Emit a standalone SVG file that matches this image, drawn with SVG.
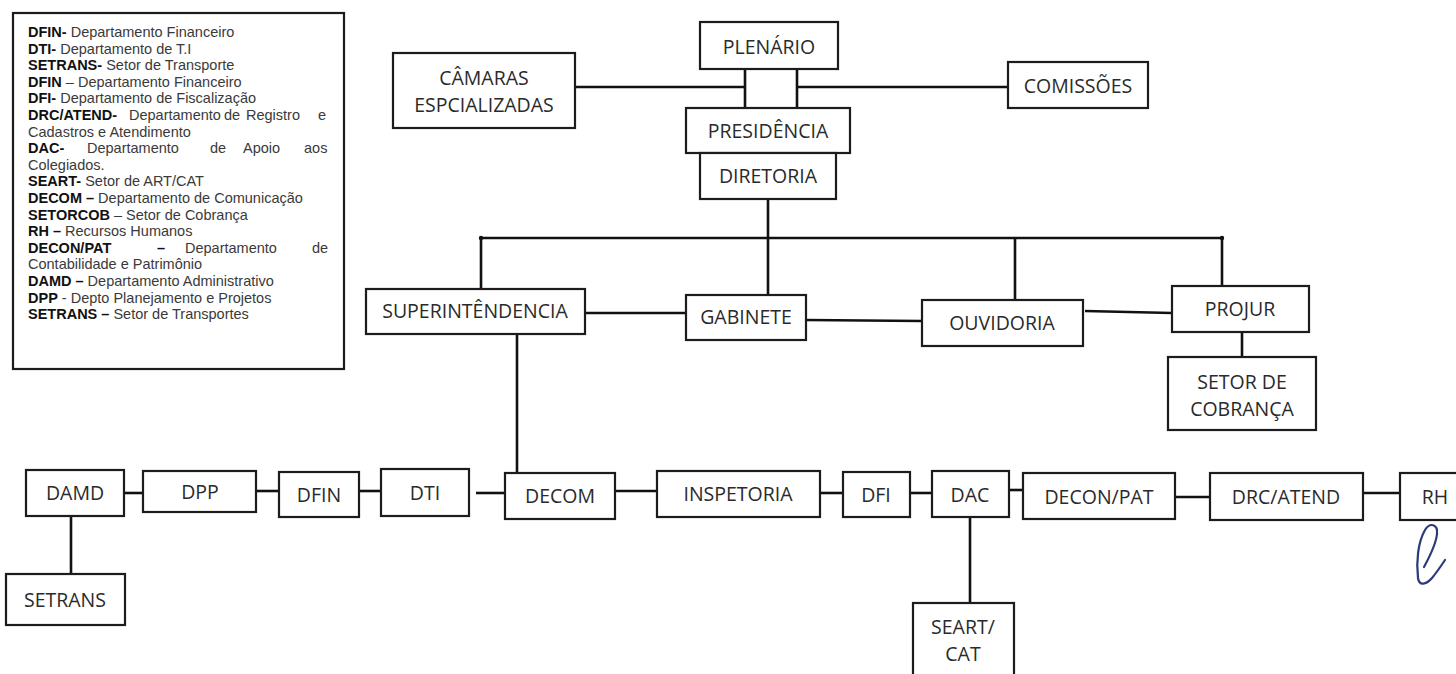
<svg xmlns="http://www.w3.org/2000/svg" width="1456" height="674" viewBox="0 0 1456 674">
<style>
.bg{fill:#fff}
.box{fill:#fff;stroke:#1c1c1c;stroke-width:2.2}
.lbl{font-family:"Open Sans","Liberation Sans",sans-serif;font-size:19.5px;fill:#2a2a2a;text-anchor:middle}
.conn line{stroke:#111;stroke-width:2.6;stroke-linecap:butt}
.dot{fill:#111}
.leg{font-family:"Liberation Sans",Arial,sans-serif;font-size:14.5px;fill:#3a3a3a}
.b{font-weight:bold;fill:#111}
.sig{fill:none;stroke:#2c3a78;stroke-width:2.2;stroke-linecap:round;stroke-linejoin:round}
</style>
<rect class="bg" x="0" y="0" width="1456" height="674"/>

<g id="legend">
<rect x="13" y="13" width="331" height="356" fill="#fff" stroke="#1c1c1c" stroke-width="2.2"/>
<text class="leg" x="28" y="37"><tspan class="b">DFIN-</tspan> Departamento Financeiro</text>
<text class="leg" x="28" y="53.6"><tspan class="b">DTI-</tspan> Departamento de T.I</text>
<text class="leg" x="28" y="70.2"><tspan class="b">SETRANS-</tspan> Setor de Transporte</text>
<text class="leg" x="28" y="86.8"><tspan class="b">DFIN</tspan> – Departamento Financeiro</text>
<text class="leg" x="28" y="103.4"><tspan class="b">DFI-</tspan> Departamento de Fiscalização</text>
<text class="leg" y="120"><tspan class="b" x="28">DRC/ATEND-</tspan><tspan x="129">Departamento</tspan><tspan x="224">de</tspan><tspan x="246">Registro</tspan><tspan x="318">e</tspan></text>
<text class="leg" x="28" y="136.6">Cadastros e Atendimento</text>
<text class="leg" y="153.2"><tspan class="b" x="28">DAC-</tspan><tspan x="87">Departamento</tspan><tspan x="210">de</tspan><tspan x="243">Apoio</tspan><tspan x="304">aos</tspan></text>
<text class="leg" x="28" y="169.8">Colegiados.</text>
<text class="leg" x="28" y="186.4"><tspan class="b">SEART-</tspan> Setor de ART/CAT</text>
<text class="leg" x="28" y="203"><tspan class="b">DECOM –</tspan> Departamento de Comunicação</text>
<text class="leg" x="28" y="219.6"><tspan class="b">SETORCOB</tspan> – Setor de Cobrança</text>
<text class="leg" x="28" y="236.2"><tspan class="b">RH –</tspan> Recursos Humanos</text>
<text class="leg" y="252.8"><tspan class="b" x="28">DECON/PAT</tspan><tspan class="b" x="157">–</tspan><tspan x="185">Departamento</tspan><tspan x="312">de</tspan></text>
<text class="leg" x="28" y="269.4">Contabilidade e Patrimônio</text>
<text class="leg" x="28" y="286"><tspan class="b">DAMD –</tspan> Departamento Administrativo</text>
<text class="leg" x="28" y="302.6"><tspan class="b">DPP</tspan> - Depto Planejamento e Projetos</text>
<text class="leg" x="28" y="319.2"><tspan class="b">SETRANS –</tspan> Setor de Transportes</text>
</g>

<g id="connectors" class="conn">
<line x1="575" y1="87" x2="745" y2="87"/>
<line x1="745" y1="69" x2="745" y2="108"/>
<line x1="797" y1="69" x2="797" y2="108"/>
<line x1="797" y1="87" x2="1008" y2="87"/>
<line x1="768" y1="199" x2="768" y2="295"/>
<line x1="481" y1="238" x2="1222" y2="238"/>
<line x1="481" y1="238" x2="481" y2="289"/>
<line x1="1015" y1="238" x2="1015" y2="300"/>
<line x1="1222" y1="238" x2="1222" y2="286"/>
<line x1="585" y1="313" x2="686" y2="313"/>
<line x1="806" y1="320" x2="922" y2="321"/>
<line x1="1085" y1="311" x2="1172" y2="313"/>
<line x1="1242" y1="332" x2="1242" y2="357"/>
<line x1="517" y1="334" x2="517" y2="473"/>
<line x1="124" y1="493" x2="143" y2="493"/>
<line x1="256" y1="491" x2="279" y2="491"/>
<line x1="359" y1="491" x2="381" y2="491"/>
<line x1="476" y1="493" x2="505" y2="493"/>
<line x1="615" y1="491" x2="657" y2="491"/>
<line x1="820" y1="493" x2="843" y2="493"/>
<line x1="910" y1="493" x2="932" y2="493"/>
<line x1="1009" y1="490" x2="1023" y2="490"/>
<line x1="1175" y1="497" x2="1210" y2="497"/>
<line x1="1363" y1="493" x2="1399" y2="493"/>
<line x1="71" y1="516" x2="71" y2="574"/>
<line x1="970" y1="517" x2="970" y2="603"/>
<circle class="dot" cx="481" cy="238" r="2.2"/>
<circle class="dot" cx="1222" cy="238" r="2.2"/>
</g>

<g id="camaras"><rect class="box" x="393" y="53" width="182" height="75"/><text class="lbl" x="484" y="85">CÂMARAS</text><text class="lbl" x="484" y="112">ESPCIALIZADAS</text></g>
<g id="plenario"><rect class="box" x="700" y="22" width="138" height="47"/><text class="lbl" x="769" y="54">PLENÁRIO</text></g>
<g id="presidencia"><rect class="box" x="686" y="108" width="164" height="45"/><text class="lbl" x="768" y="138">PRESIDÊNCIA</text></g>
<g id="diretoria"><rect class="box" x="700" y="153" width="136" height="46"/><text class="lbl" x="768" y="183">DIRETORIA</text></g>
<g id="comissoes"><rect class="box" x="1008" y="62" width="140" height="46"/><text class="lbl" x="1078" y="93">COMISSÕES</text></g>

<g id="superintendencia"><rect class="box" x="366" y="289" width="219" height="45"/><text class="lbl" x="475" y="318">SUPERINTÊNDENCIA</text></g>
<g id="gabinete"><rect class="box" x="686" y="295" width="120" height="45"/><text class="lbl" x="746" y="324">GABINETE</text></g>
<g id="ouvidoria"><rect class="box" x="922" y="300" width="161" height="46"/><text class="lbl" x="1002" y="330">OUVIDORIA</text></g>
<g id="projur"><rect class="box" x="1172" y="286" width="137" height="46"/><text class="lbl" x="1240" y="316">PROJUR</text></g>
<g id="setor-cobranca"><rect class="box" x="1168" y="357" width="148" height="73"/><text class="lbl" x="1242" y="389">SETOR DE</text><text class="lbl" x="1242" y="416">COBRANÇA</text></g>

<g id="damd"><rect class="box" x="26" y="470" width="98" height="46"/><text class="lbl" x="75" y="500">DAMD</text></g>
<g id="dpp"><rect class="box" x="143" y="471" width="113" height="41"/><text class="lbl" x="200" y="499">DPP</text></g>
<g id="dfin"><rect class="box" x="279" y="472" width="80" height="45"/><text class="lbl" x="319" y="502">DFIN</text></g>
<g id="dti"><rect class="box" x="381" y="469" width="88" height="47"/><text class="lbl" x="425" y="500">DTI</text></g>
<g id="decom"><rect class="box" x="505" y="473" width="110" height="46"/><text class="lbl" x="560" y="503">DECOM</text></g>
<g id="inspetoria"><rect class="box" x="657" y="471" width="163" height="46"/><text class="lbl" x="738" y="501">INSPETORIA</text></g>
<g id="dfi"><rect class="box" x="843" y="472" width="67" height="45"/><text class="lbl" x="876" y="502">DFI</text></g>
<g id="dac"><rect class="box" x="932" y="471" width="77" height="46"/><text class="lbl" x="970" y="502">DAC</text></g>
<g id="decon-pat"><rect class="box" x="1023" y="473" width="152" height="46"/><text class="lbl" x="1099" y="504">DECON/PAT</text></g>
<g id="drc-atend"><rect class="box" x="1210" y="473" width="153" height="47"/><text class="lbl" x="1286" y="504">DRC/ATEND</text></g>
<g id="rh"><rect class="box" x="1400" y="473" width="70" height="47"/><text class="lbl" x="1435" y="504">RH</text></g>
<g id="setrans"><rect class="box" x="6" y="574" width="119" height="51"/><text class="lbl" x="65" y="607">SETRANS</text></g>
<g id="seart-cat"><rect class="box" x="913" y="603" width="101" height="80"/><text class="lbl" x="963" y="634">SEART/</text><text class="lbl" x="963" y="661">CAT</text></g>

<path class="sig" d="M1424 567 C1430 556 1436 544 1437 534 C1438 524 1430 522 1425 530 C1418 542 1416 562 1418 578 C1419 586 1426 585 1432 578 C1437 572 1441 566 1445 560"/>
</svg>
